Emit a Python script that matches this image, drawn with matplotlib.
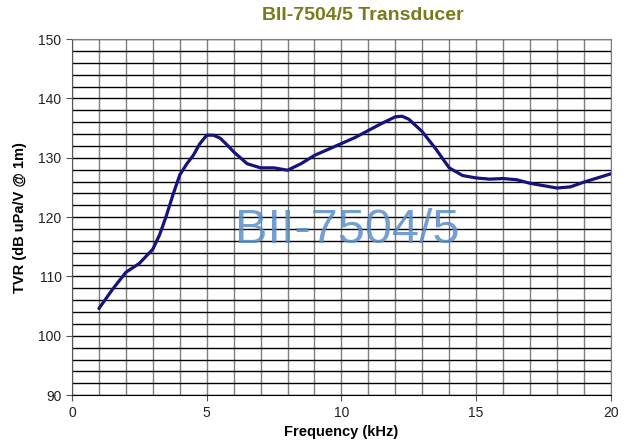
import numpy as np
import matplotlib.pyplot as plt
from matplotlib.ticker import MultipleLocator

# frequency (kHz) and TVR (dB uPa/V @ 1m)
freq = [1.0, 1.5, 2.0, 2.5, 3.0, 3.25, 3.5, 3.75, 4.0, 4.25, 4.5, 4.75, 5.0,
        5.25, 5.5, 5.75, 6.0, 6.5, 7.0, 7.5, 8.0, 8.5, 9.0, 9.5, 10.0, 10.5,
        11.0, 11.5, 12.0, 12.25, 12.5, 13.0, 13.5, 14.0, 14.5, 15.0, 15.5,
        16.0, 16.5, 17.0, 17.5, 18.0, 18.5, 19.0, 19.5, 20.0]
tvr = [104.6, 107.8, 110.7, 112.2, 114.6, 117.0, 120.2, 123.8, 127.1, 128.9,
       130.4, 132.4, 133.8, 133.8, 133.3, 132.2, 131.0, 129.0, 128.3, 128.3,
       127.9, 129.0, 130.4, 131.4, 132.4, 133.4, 134.6, 135.8, 136.9, 137.0,
       136.5, 134.4, 131.5, 128.3, 127.0, 126.6, 126.4, 126.5, 126.3, 125.7,
       125.3, 124.9, 125.1, 125.9, 126.6, 127.3]

plt.rcParams['font.family'] = ['Liberation Sans', 'DejaVu Sans']

fig = plt.figure(figsize=(6.37, 4.44), dpi=100)
ax = fig.add_axes([0.113, 0.110, 0.846, 0.802])

ax.plot(freq, tvr, color='#14147a', lw=2.3, solid_joinstyle='round',
        solid_capstyle='round', zorder=5)

ax.set_xlim(0, 20)
ax.set_ylim(90, 150)
ax.xaxis.set_major_locator(MultipleLocator(5))
ax.xaxis.set_minor_locator(MultipleLocator(1))
ax.yaxis.set_major_locator(MultipleLocator(10))
ax.yaxis.set_minor_locator(MultipleLocator(2))

ax.grid(True, which='both', axis='x', color='#7f7f7f', lw=1.0)
ax.grid(True, which='both', axis='y', color='black', lw=1.0)
ax.set_axisbelow(True)

ax.tick_params(axis='both', which='major', direction='out', length=4,
               labelsize=10, color='#555555', labelcolor='#222222')
ax.tick_params(axis='both', which='minor', length=0)

for side in ['top', 'right']:
    ax.spines[side].set_color('#7f7f7f')
ax.spines['left'].set_color('#555555')
ax.spines['bottom'].set_color('black')

ax.set_xlabel('Frequency (kHz)', fontsize=10.5, fontweight='bold', labelpad=4)
ax.set_ylabel('TVR (dB uPa/V @ 1m)', fontsize=10.5, fontweight='bold', labelpad=8)
fig.suptitle('BII-7504/5 Transducer', x=0.57, y=0.985, fontsize=14,
             fontweight='bold', color='#7a7a1a')

# watermark
ax.text(10.2, 115.6, 'BII-7504/5', fontsize=35, color='#5b8fc9', alpha=0.85,
        ha='center', va='baseline', zorder=4)

fig.savefig('out.png', dpi=100)
